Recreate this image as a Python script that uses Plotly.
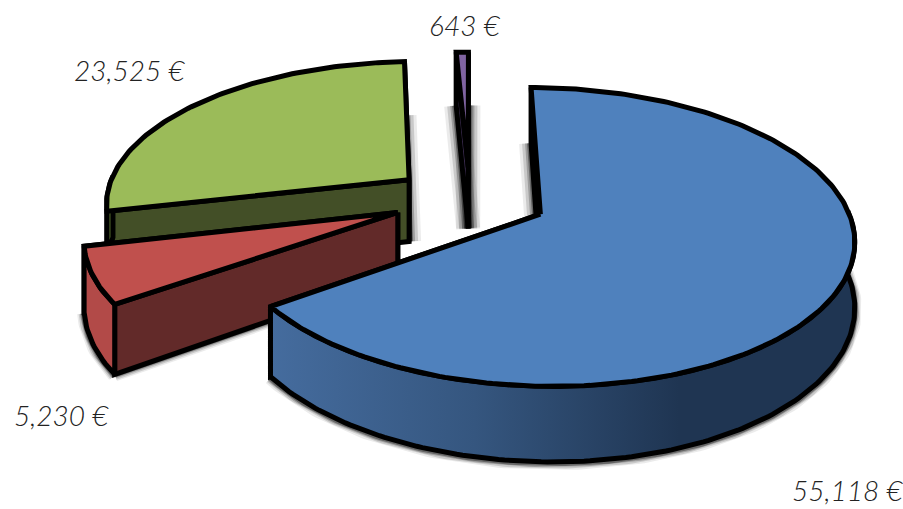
import numpy as np
import plotly.graph_objects as go

# ---- data (clockwise from 12 o'clock) ----
names = ["Blue", "Red", "Green", "Purple"]
values = [55118, 5230, 23525, 643]
top_colors = ["#4f81bd", "#c0504d", "#9bbb59", "#8064a2"]
cut_colors = ["#234063", "#622a29", "#434f27", "#3f2f55"]
wall_colors = ["#2c4a70", "#b24a48", "#5a7030", "#3f2f55"]
label_xy = [(847, 490), (61, 415), (129, 70), (464, 25)]

# ---- view parameters ----
CX, CY = 470, 199
R, K, Q = 304, 0.465, 0.15
PULL_X, PULL_Y = 78, 70
DEPTH = 63
LW = 5


def proj(X, Y, Z=0.0):
    s = 1 / (1 - Q * Y / R)
    return CX + X * s, CY + K * Y * s + Z * s


total = sum(values)
edges = np.cumsum([0] + values) / total * 2 * np.pi

fig = go.Figure()


def poly(xs, ys, fill=None, grad=None, width=LW):
    kw = {}
    if grad is not None:
        kw["fillgradient"] = dict(type="horizontal", colorscale=grad)
    fig.add_trace(go.Scatter(
        x=list(xs), y=list(ys), mode="lines", fill="toself",
        fillcolor=fill, line=dict(color="black", width=width),
        hoverinfo="skip", showlegend=False, **kw))


def shadow(xs, ys, widths=(24, 18, 12, 8)):
    for w, a in zip(widths, (0.08, 0.14, 0.22, 0.35)):
        fig.add_trace(go.Scatter(
            x=list(xs), y=list(ys), mode="lines",
            line=dict(color=f"rgba(0,0,0,{a})", width=w),
            hoverinfo="skip", showlegend=False))


geo = []
for i, v in enumerate(values):
    a0, a1 = edges[i], edges[i + 1]
    mid = (a0 + a1) / 2
    dX, dY = PULL_X * np.sin(mid), -PULL_Y * np.cos(mid)
    th = np.linspace(a0, a1, max(6, int((a1 - a0) * 60)))
    geo.append((a0, a1, dX, dY, th))

order = [3, 2, 1, 0]  # painter's order, back to front
NARROW = (14, 11, 8, 6)

# soft drop shadows behind the silhouettes
for i in order:
    a0, a1, dX, dY, th = geo[i]
    ax, ay = proj(dX, dY, DEPTH)
    e0x, e0y = proj(dX + R * np.sin(a0), dY - R * np.cos(a0), DEPTH)
    e1x, e1y = proj(dX + R * np.sin(a1), dY - R * np.cos(a1), DEPTH)
    if i == 3:
        shadow([ax, e0x], [ay, e0y])
        shadow([ax, e1x], [ay, e1y])
    elif i == 2:
        shadow([ax, e1x], [ay, e1y])
    elif i == 0:
        shadow([ax, e0x], [ay, e0y])
        front = th[np.cos(th) < 0.05]
        fx, fy = proj(dX + R * np.sin(front), dY - R * np.cos(front), DEPTH + 1)
        shadow(fx, fy, NARROW)
    else:
        shadow([ax, e0x], [ay, e0y], NARROW)
        fx, fy = proj(dX + R * np.sin(th), dY - R * np.cos(th), DEPTH + 1)
        shadow(fx, fy, NARROW)

for i in order:
    a0, a1, dX, dY, th = geo[i]
    X = dX + R * np.sin(th)
    Y = dY - R * np.cos(th)
    ax, ay = proj(dX, dY)
    azx, azy = proj(dX, dY, DEPTH)
    # the two flat cut walls
    for a in (a1, a0):
        ex, ey = proj(dX + R * np.sin(a), dY - R * np.cos(a))
        ezx, ezy = proj(dX + R * np.sin(a), dY - R * np.cos(a), DEPTH)
        poly([ax, ex, ezx, azx, ax], [ay, ey, ezy, azy, ay], fill=cut_colors[i])
    # outer rounded wall, front part only
    mask = np.cos(th) < 0.03
    if mask.any():
        tx, ty = proj(X[mask], Y[mask])
        bx, by = proj(X[mask], Y[mask], DEPTH)
        xs = np.r_[tx, bx[::-1], tx[0]]
        ys = np.r_[ty, by[::-1], ty[0]]
        if i == 0:
            poly(xs, ys, grad=[[0, "#456c9e"], [0.35, "#35567f"], [0.7, "#1f3552"], [1, "#1f3552"]])
        else:
            poly(xs, ys, fill=wall_colors[i])
    # top surface
    tx, ty = proj(X, Y)
    poly(np.r_[ax, tx, ax], np.r_[ay, ty, ay], fill=top_colors[i])

for v, (lx, ly) in zip(values, label_xy):
    fig.add_annotation(
        x=lx, y=ly, xref="x", yref="y", text=f"{v:,} €", showarrow=False,
        font=dict(family="Lato", size=28, color="#222222", style="italic", weight=300))

fig.update_layout(
    width=903, height=509, margin=dict(l=0, r=0, t=0, b=0),
    paper_bgcolor="white", plot_bgcolor="white", showlegend=False,
    xaxis=dict(range=[0, 903], visible=False, fixedrange=True),
    yaxis=dict(range=[509, 0], visible=False, fixedrange=True),
)
fig.write_html("out.html", config={"displayModeBar": False},
               post_script="document.body.style.margin='0';document.body.style.overflow='hidden';")
